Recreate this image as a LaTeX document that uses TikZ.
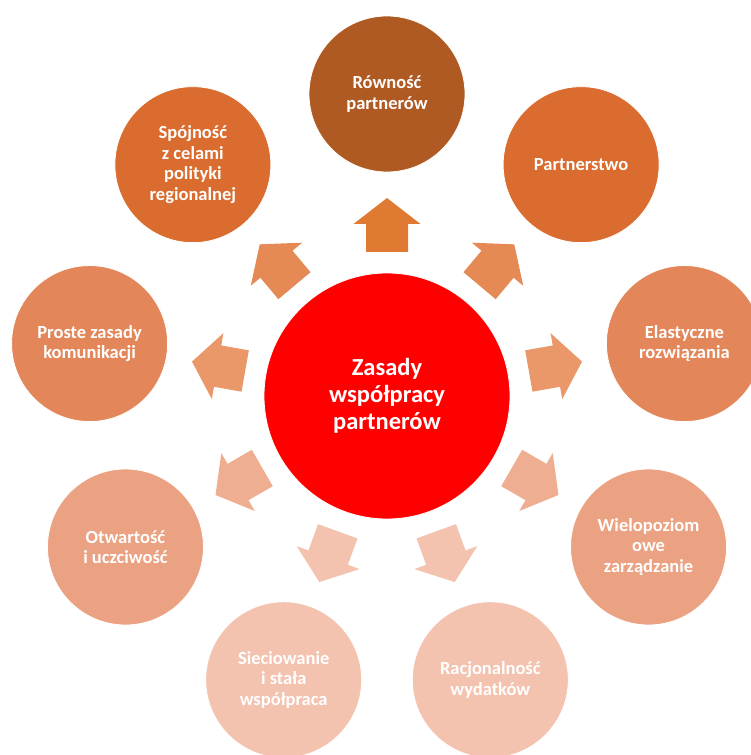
\documentclass[tikz,border=0pt]{standalone}
\usepackage{fontspec}
\setmainfont{Carlito}
\usetikzlibrary{calc}
\definecolor{cA}{RGB}{176,90,35}
\definecolor{cB}{RGB}{217,108,46}
\definecolor{cC}{RGB}{227,135,90}
\definecolor{cD}{RGB}{235,162,131}
\definecolor{cE}{RGB}{243,195,175}
\definecolor{aA}{RGB}{224,122,50}
\definecolor{aB}{RGB}{230,138,85}
\definecolor{aC}{RGB}{234,152,106}
\definecolor{aD}{RGB}{239,174,145}
\definecolor{aE}{RGB}{243,195,176}
\definecolor{cMain}{RGB}{255,0,0}
\begin{document}
\begin{tikzpicture}[x=1pt,y=1pt,
  outer/.style={circle, minimum size=156pt, inner sep=0pt, draw=white, line width=0.8pt,
    text=white, font=\bfseries\fontsize{18.5}{20.5}\selectfont, align=center},
  mainc/.style={circle, minimum size=246pt, inner sep=0pt, fill=cMain, draw=white, line width=0.8pt,
    text=white, font=\bfseries\fontsize{24.5}{27}\selectfont, align=center}]
\useasboundingbox (0,0) rectangle (751,755);
\clip (0,0) rectangle (751,755);
\coordinate (O) at (387,359);
% arrows
\foreach \ang/\col in {90/aA,50/aB,130/aB,10/aC,170/aC,-30/aD,-150/aD,-70/aE,-110/aE}{
  \begin{scope}[shift={(O)}, rotate=\ang]
    \fill[\col] (144,-21) -- (172,-21) -- (172,-33.5) -- (198,0) -- (172,33.5) -- (172,21) -- (144,21) -- cycle;
  \end{scope}
}
\node[mainc] (main) at (O) {Zasady\\współpracy\\partnerów};
\node[outer, fill=cA] (rown) at ($(O)+(90:302)$) {Równość\\partnerów};
\node[outer, fill=cB] (part) at ($(O)+(50:302)$) {Partnerstwo};
\node[outer, fill=cC] (elas) at ($(O)+(10:302)$) {Elastyczne\\rozwiązania};
\node[outer, fill=cD] (wiel) at ($(O)+(-30:302)$) {Wielopoziom\\owe\\zarządzanie};
\node[outer, fill=cE] (racj) at ($(O)+(-70:302)$) {Racjonalność\\wydatków};
\node[outer, fill=cE] (siec) at ($(O)+(-110:302)$) {Sieciowanie\\i stała\\współpraca};
\node[outer, fill=cD] (otwa) at ($(O)+(-150:302)$) {Otwartość\\i uczciwość};
\node[outer, fill=cC] (pros) at ($(O)+(170:302)$) {Proste zasady\\komunikacji};
\node[outer, fill=cB] (spoj) at ($(O)+(130:302)$) {Spójność\\z celami\\polityki\\regionalnej};
\end{tikzpicture}
\end{document}
